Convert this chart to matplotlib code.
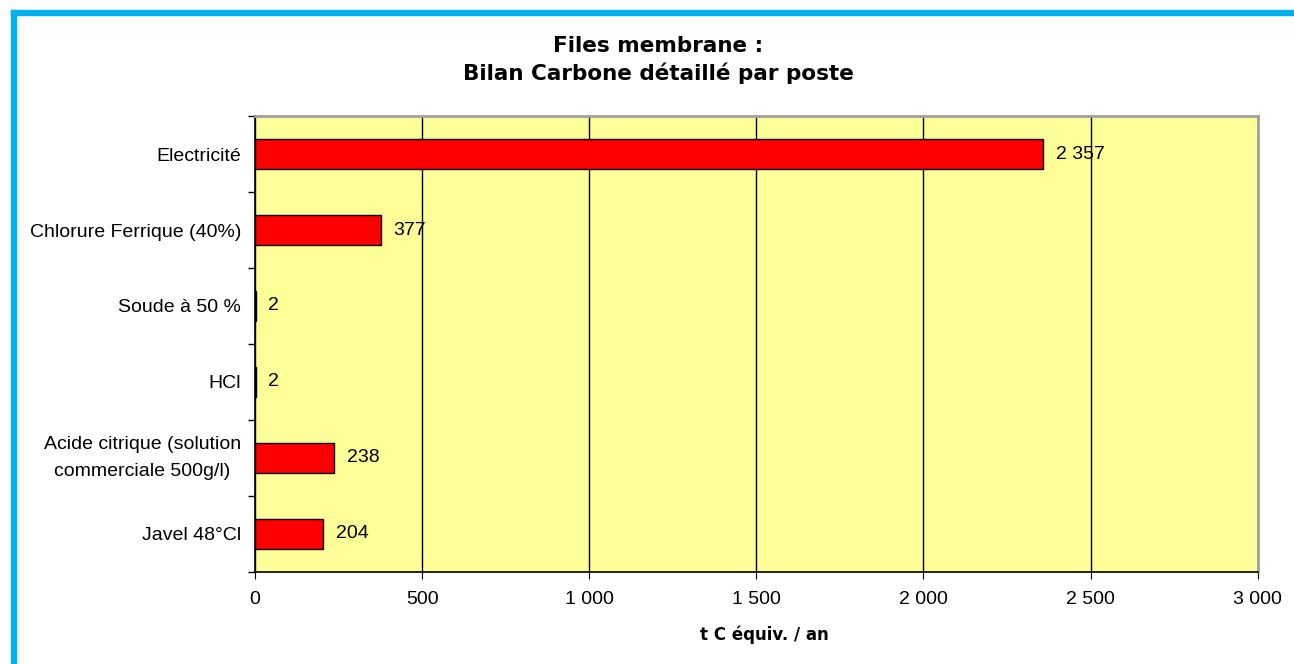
import matplotlib
matplotlib.use('Agg')
import matplotlib.pyplot as plt
from matplotlib.patches import Rectangle
from matplotlib.ticker import FuncFormatter, MultipleLocator

plt.rcParams['font.family'] = ['Liberation Sans', 'DejaVu Sans']

categories = ['Electricité', 'Chlorure Ferrique (40%)', 'Soude à 50 %', 'HCl',
              'Acide citrique (solution\ncommerciale 500g/l)', 'Javel 48°Cl']
values = [2357, 377, 2, 2, 238, 204]
value_labels = ['2 357', '377', '2', '2', '238', '204']


def fr_thousands(x, pos):
    return '{:,.0f}'.format(x).replace(',', ' ')


fig = plt.figure(figsize=(12.94, 6.64), dpi=100)
ax = fig.add_axes([0.197, 0.139, 0.775, 0.686])

# blue frame on top and left
fig.patches.append(Rectangle((0.0085, 0.0), 0.0042, 0.985, transform=fig.transFigure,
                             color='#00b0f0', zorder=-1))
fig.patches.append(Rectangle((0.0085, 0.978), 0.9915, 0.0075, transform=fig.transFigure,
                             color='#00b0f0', zorder=-1))

ax.set_facecolor('#ffff99')
ypos = list(range(len(categories)))
ax.barh(ypos, values, height=0.4, color='#ff0000', edgecolor='black', linewidth=1, zorder=3)
for y, v, lab in zip(ypos, values, value_labels):
    ax.text(v + 38, y, lab, va='center', ha='left', fontsize=14, zorder=4)

ax.set_xlim(0, 3000)
ax.set_ylim(len(categories) - 0.5, -0.5)
ax.xaxis.set_major_locator(MultipleLocator(500))
ax.xaxis.set_major_formatter(FuncFormatter(fr_thousands))
ax.grid(axis='x', color='black', linewidth=1, zorder=1)
ax.set_yticks(ypos)
ax.set_yticklabels(categories, fontsize=14, multialignment='center')
for t in ax.get_yticklabels():
    if '\n' in t.get_text():
        t.set_linespacing(1.75)
        t.set_va('center')
ax.set_yticks([y - 0.5 for y in ypos] + [len(categories) - 0.5], minor=True)
ax.tick_params(axis='y', which='major', length=0, pad=10)
ax.tick_params(axis='y', which='minor', length=5, direction='out', width=1)
ax.tick_params(axis='x', length=5, direction='out', labelsize=14, pad=9)

ax.spines['top'].set_color('#a0a0a0')
ax.spines['right'].set_color('#a0a0a0')
ax.spines['top'].set_linewidth(2)
ax.spines['right'].set_linewidth(2)
ax.spines['left'].set_linewidth(1.2)
ax.spines['bottom'].set_linewidth(1.2)

ax.set_xlabel('t C équiv. / an', fontsize=12, fontweight='bold', family='DejaVu Sans', va='center')
ax.xaxis.set_label_coords(0.508, -0.138)
fig.text(0.5085, 0.9096, 'Files membrane :\nBilan Carbone détaillé par poste', ha='center', va='center',
         fontsize=15.5, fontweight='bold', family='DejaVu Sans', linespacing=1.4)

plt.savefig('out.png', dpi=100)
